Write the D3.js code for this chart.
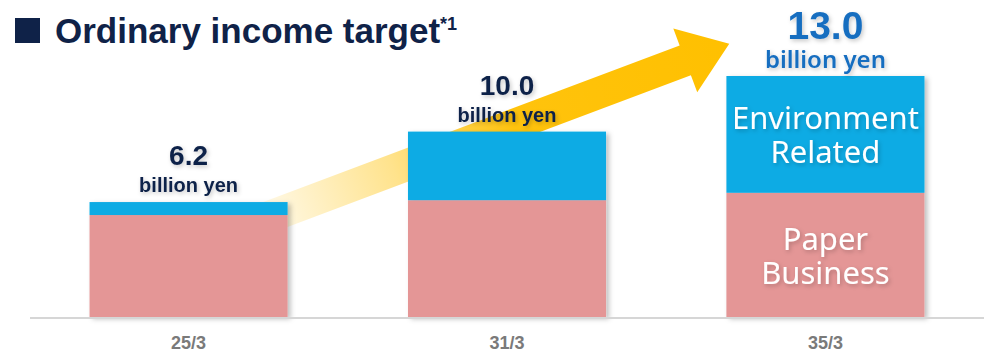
<!DOCTYPE html>
<html>
<head>
<meta charset="utf-8">
<script src="https://cdn.jsdelivr.net/npm/d3@7"></script>
<style>
  body { margin: 0; background: #fff; }
  svg { display: block; }
</style>
</head>
<body>
<script>
// DATA
var years = ["25/3", "31/3", "35/3"];
var paper = [5.5, 6.3, 6.7];
var environment = [0.7, 3.7, 6.3];
var totals = [6.2, 10.0, 13.0];

var w = 1002;
var h = 353;
var navy = "#0f2248";

var svg = d3.select("body")
  .append("svg")
  .attr("width", w)
  .attr("height", h);

var defs = svg.append("defs");

// shadows
var sh = defs.append("filter").attr("id", "barShadow")
  .attr("x", "-10%").attr("y", "-10%").attr("width", "130%").attr("height", "130%");
sh.append("feDropShadow").attr("dx", 3).attr("dy", 2).attr("stdDeviation", 2.5)
  .attr("flood-color", "#000").attr("flood-opacity", 0.25);

var ts = defs.append("filter").attr("id", "textShadow")
  .attr("x", "-20%").attr("y", "-30%").attr("width", "140%").attr("height", "170%");
ts.append("feDropShadow").attr("dx", 1.5).attr("dy", 2).attr("stdDeviation", 2)
  .attr("flood-color", "#000").attr("flood-opacity", 0.22);

// arrow gradient
var grad = defs.append("linearGradient").attr("id", "arrowGrad")
  .attr("gradientUnits", "userSpaceOnUse")
  .attr("x1", 0).attr("y1", 0).attr("x2", 512).attr("y2", 0);
grad.append("stop").attr("offset", "0").attr("stop-color", "#ffc000").attr("stop-opacity", 0.05);
grad.append("stop").attr("offset", "0.3").attr("stop-color", "#ffc000").attr("stop-opacity", 0.45);
grad.append("stop").attr("offset", "0.55").attr("stop-color", "#ffc000").attr("stop-opacity", 0.95);
grad.append("stop").attr("offset", "1").attr("stop-color", "#ffc000").attr("stop-opacity", 1);

// SCALES
var x = d3.scaleBand()
  .domain(years)
  .range([30, 984])
  .paddingInner(0.378)
  .paddingOuter(0.187);

var y = d3.scaleLinear()
  .domain([0, 13])
  .range([317, 76]);

// TITLE
svg.append("rect")
  .attr("x", 15).attr("y", 18)
  .attr("width", 25).attr("height", 25)
  .attr("fill", navy);

var title = svg.append("text")
  .attr("x", 55).attr("y", 43)
  .attr("font-family", "Liberation Sans, Arial, sans-serif")
  .attr("font-weight", "bold")
  .attr("font-size", "35px")
  .attr("fill", navy);
title.append("tspan").text("Ordinary income target");
title.append("tspan")
  .attr("font-size", "18px")
  .attr("dy", -13)
  .text("*1");

// ARROW (growth)
var L = 512, shaftW = 16, headW = 34, headL = 47;
svg.append("g")
  .attr("transform", "translate(250,224) rotate(-20.6)")
  .append("path")
  .attr("d", "M0," + (-shaftW) +
             "L" + (L - headL) + "," + (-shaftW) +
             "L" + (L - headL) + "," + (-headW) +
             "L" + L + ",0" +
             "L" + (L - headL) + "," + headW +
             "L" + (L - headL) + "," + shaftW +
             "L0," + shaftW + "Z")
  .attr("fill", "url(#arrowGrad)");

// BARS
var bars = svg.selectAll("g.bar")
  .data(years)
  .enter()
  .append("g")
  .attr("class", "bar")
  .attr("filter", "url(#barShadow)");

bars.append("rect")
  .attr("x", function(d) { return x(d); })
  .attr("width", x.bandwidth())
  .attr("y", function(d, i) { return y(paper[i]); })
  .attr("height", function(d, i) { return y(0) - y(paper[i]); })
  .attr("fill", "#e49696");

bars.append("rect")
  .attr("x", function(d) { return x(d); })
  .attr("width", x.bandwidth())
  .attr("y", function(d, i) { return y(paper[i] + environment[i]); })
  .attr("height", function(d, i) { return y(paper[i]) - y(paper[i] + environment[i]); })
  .attr("fill", "#0eabe4");

// baseline
svg.append("line")
  .attr("x1", 30).attr("x2", 984)
  .attr("y1", y(0) + 1).attr("y2", y(0) + 1)
  .attr("stroke", "#d6d6d6")
  .attr("stroke-width", 2);

// x labels
svg.selectAll("text.xlab")
  .data(years)
  .enter()
  .append("text")
  .attr("class", "xlab")
  .attr("x", function(d) { return x(d) + x.bandwidth() / 2; })
  .attr("y", 349)
  .attr("text-anchor", "middle")
  .attr("font-family", "Liberation Sans Narrow, Liberation Sans, Arial, sans-serif")
  .attr("font-weight", "bold")
  .attr("font-size", "18px")
  .attr("fill", "#7a7a7a")
  .text(function(d) { return d; });

// TOTAL LABELS
var fmt = d3.format(".1f");
var last = years.length - 1;

svg.selectAll("text.total")
  .data(years)
  .enter()
  .append("text")
  .attr("class", "total")
  .attr("x", function(d) { return x(d) + x.bandwidth() / 2; })
  .attr("y", function(d, i) { return y(totals[i]) - 37; })
  .attr("text-anchor", "middle")
  .attr("font-family", "Liberation Sans, Arial, sans-serif")
  .attr("font-weight", "bold")
  .attr("font-size", function(d, i) { return i === last ? "39px" : "28px"; })
  .attr("fill", function(d, i) { return i === last ? "#176ec0" : navy; })
  .attr("filter", "url(#textShadow)")
  .text(function(d, i) { return fmt(totals[i]); });

svg.selectAll("text.unit")
  .data(years)
  .enter()
  .append("text")
  .attr("class", "unit")
  .attr("x", function(d) { return x(d) + x.bandwidth() / 2; })
  .attr("y", function(d, i) { return y(totals[i]) - (i === last ? 8 : 10); })
  .attr("text-anchor", "middle")
  .attr("font-family", function(d, i) {
    return i === last ? "Noto Sans, sans-serif" : "Liberation Sans, Arial, sans-serif";
  })
  .attr("font-weight", function(d, i) { return i === last ? "600" : "bold"; })
  .attr("font-size", function(d, i) { return i === last ? "24px" : "20px"; })
  .attr("fill", function(d, i) { return i === last ? "#176ec0" : navy; })
  .attr("filter", "url(#textShadow)")
  .text("billion yen");

// SEGMENT NAMES (last bar)
var segs = [
  { lines: ["Environment", "Related"], lo: paper[last], hi: paper[last] + environment[last] },
  { lines: ["Paper", "Business"], lo: 0, hi: paper[last] }
];

var cx = x(years[last]) + x.bandwidth() / 2;
segs.forEach(function(s) {
  var mid = (y(s.lo) + y(s.hi)) / 2;
  var t = svg.append("text")
    .attr("x", cx)
    .attr("text-anchor", "middle")
    .attr("font-family", "Noto Sans, sans-serif")
    .attr("font-size", "31px")
    .attr("fill", "#fff")
    .attr("filter", "url(#textShadow)");
  s.lines.forEach(function(l, j) {
    t.append("tspan")
      .attr("x", cx)
      .attr("y", mid - 5 + j * 34)
      .text(l);
  });
});
</script>
</body>
</html>
